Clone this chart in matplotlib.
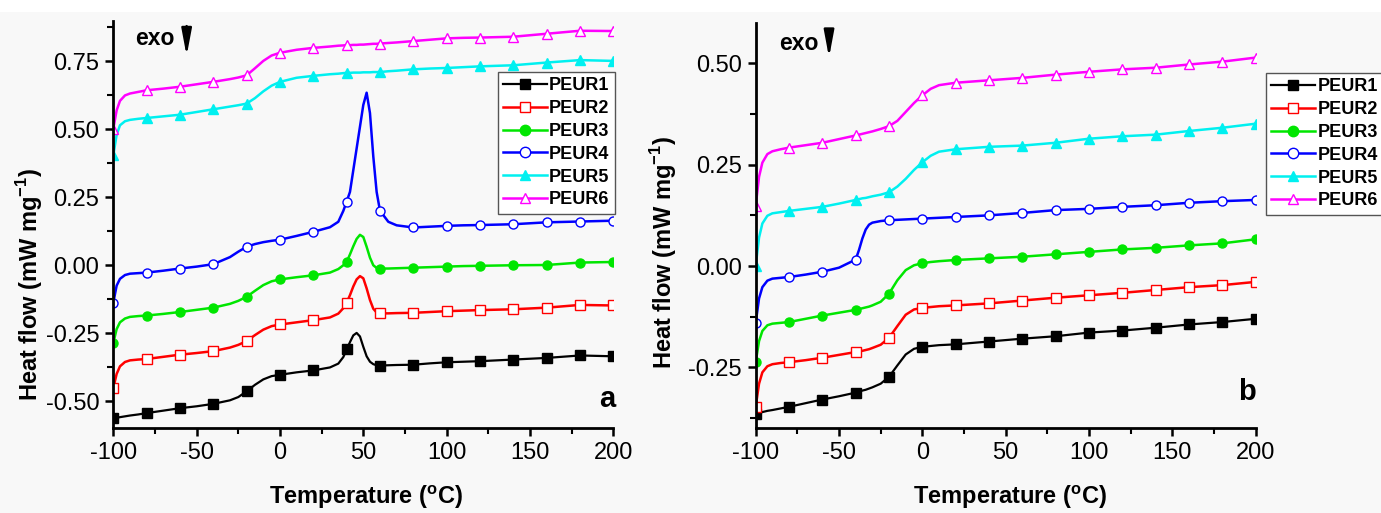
import matplotlib
matplotlib.use('Agg')
import matplotlib.pyplot as plt
from matplotlib.patches import Rectangle
from matplotlib.ticker import MultipleLocator, FormatStrFormatter

plt.rcParams['font.family'] = ['Liberation Sans', 'DejaVu Sans']
plt.rcParams['mathtext.fontset'] = 'custom'
plt.rcParams['mathtext.rm'] = 'Liberation Sans'
plt.rcParams['mathtext.bf'] = 'Liberation Sans:bold'
plt.rcParams['axes.unicode_minus'] = False

# --- data ---
names = ['PEUR1', 'PEUR2', 'PEUR3', 'PEUR4', 'PEUR5', 'PEUR6']

# panel a
T_a = [-100, -98, -96, -93, -90, -85, -80, -70, -60, -50, -40, -30, -25, -20, -15,
       -10, -5, 0, 10, 20, 30, 35, 38, 40, 42, 44, 46, 48, 50, 52, 54, 56, 58, 60,
       65, 70, 80, 90, 100, 110, 120, 140, 160, 180, 200]
peur1_a = [-0.563, -0.561, -0.559, -0.556, -0.553, -0.549, -0.544, -0.535, -0.526, -0.519,
           -0.510, -0.497, -0.485, -0.464, -0.440, -0.420, -0.408, -0.403, -0.394, -0.387,
           -0.376, -0.362, -0.338, -0.310, -0.283, -0.258, -0.249, -0.262, -0.300, -0.335,
           -0.355, -0.364, -0.368, -0.369, -0.368, -0.367, -0.366, -0.361, -0.357, -0.355,
           -0.353, -0.347, -0.341, -0.332, -0.335]
peur2_a = [-0.452, -0.400, -0.372, -0.356, -0.350, -0.347, -0.345, -0.337, -0.329, -0.323,
           -0.316, -0.303, -0.293, -0.279, -0.257, -0.237, -0.224, -0.218, -0.210, -0.202,
           -0.192, -0.178, -0.158, -0.138, -0.110, -0.078, -0.052, -0.040, -0.048, -0.085,
           -0.128, -0.160, -0.174, -0.177, -0.177, -0.176, -0.175, -0.172, -0.169, -0.167,
           -0.165, -0.162, -0.156, -0.146, -0.148]
peur3_a = [-0.286, -0.235, -0.210, -0.196, -0.190, -0.187, -0.185, -0.179, -0.172, -0.164,
           -0.156, -0.142, -0.131, -0.116, -0.094, -0.073, -0.059, -0.052, -0.044, -0.037,
           -0.027, -0.014, 0.000, 0.012, 0.040, 0.070, 0.097, 0.112, 0.104, 0.068,
           0.028, 0.000, -0.010, -0.012, -0.012, -0.011, -0.009, -0.007, -0.005, -0.003,
           -0.002, 0.000, 0.001, 0.010, 0.012]
peur4_a = [-0.138, -0.075, -0.050, -0.036, -0.031, -0.029, -0.027, -0.020, -0.012, -0.005,
           0.004, 0.030, 0.050, 0.068, 0.078, 0.085, 0.090, 0.094, 0.108, 0.123,
           0.140, 0.160, 0.200, 0.234, 0.270, 0.350, 0.430, 0.510, 0.590, 0.635,
           0.560, 0.400, 0.270, 0.201, 0.160, 0.147, 0.139, 0.142, 0.145, 0.147,
           0.148, 0.151, 0.158, 0.161, 0.164]
peur5_a = [0.404, 0.480, 0.515, 0.530, 0.535, 0.539, 0.542, 0.548, 0.554, 0.564,
           0.574, 0.584, 0.589, 0.595, 0.615, 0.640, 0.661, 0.675, 0.690, 0.697,
           0.703, 0.705, 0.707, 0.708, 0.708, 0.709, 0.709, 0.709, 0.710, 0.710,
           0.710, 0.711, 0.711, 0.711, 0.714, 0.716, 0.721, 0.724, 0.726, 0.729,
           0.732, 0.736, 0.746, 0.755, 0.752]
peur6_a = [0.502, 0.570, 0.605, 0.625, 0.632, 0.638, 0.644, 0.650, 0.657, 0.666,
           0.675, 0.685, 0.691, 0.699, 0.725, 0.752, 0.772, 0.782, 0.793, 0.800,
           0.805, 0.808, 0.809, 0.810, 0.810, 0.811, 0.811, 0.812, 0.812, 0.813,
           0.814, 0.815, 0.815, 0.816, 0.818, 0.820, 0.825, 0.830, 0.835, 0.837,
           0.838, 0.841, 0.852, 0.863, 0.862]

# panel b
T_b = [-100, -98, -96, -93, -90, -85, -80, -70, -60, -50, -40, -38, -36, -34, -32, -30,
       -25, -20, -15, -10, -5, 0, 5, 10, 20, 40, 60, 80, 100, 120, 140, 160, 180, 200]
peur1_b = [-0.364, -0.362, -0.360, -0.357, -0.355, -0.351, -0.347, -0.338, -0.329, -0.321,
           -0.312, -0.310, -0.307, -0.305, -0.302, -0.299, -0.290, -0.273, -0.245, -0.218,
           -0.204, -0.199, -0.197, -0.195, -0.193, -0.186, -0.179, -0.173, -0.164, -0.159,
           -0.152, -0.144, -0.138, -0.130]
peur2_b = [-0.347, -0.290, -0.262, -0.247, -0.242, -0.239, -0.237, -0.232, -0.226, -0.219,
           -0.212, -0.210, -0.209, -0.207, -0.205, -0.202, -0.194, -0.177, -0.148, -0.120,
           -0.107, -0.103, -0.101, -0.099, -0.097, -0.092, -0.085, -0.078, -0.072, -0.066,
           -0.059, -0.052, -0.047, -0.039]
peur3_b = [-0.237, -0.185, -0.160, -0.146, -0.142, -0.140, -0.138, -0.130, -0.122, -0.115,
           -0.108, -0.106, -0.104, -0.102, -0.100, -0.097, -0.088, -0.068, -0.035, -0.010,
           0.002, 0.007, 0.010, 0.012, 0.015, 0.019, 0.023, 0.029, 0.035, 0.041,
           0.045, 0.051, 0.056, 0.066]
peur4_b = [-0.140, -0.080, -0.052, -0.036, -0.031, -0.029, -0.027, -0.021, -0.014, -0.004,
           0.016, 0.040, 0.068, 0.090, 0.102, 0.107, 0.111, 0.113, 0.114, 0.115,
           0.116, 0.117, 0.118, 0.119, 0.121, 0.125, 0.131, 0.138, 0.141, 0.146,
           0.150, 0.156, 0.160, 0.163]
peur5_b = [0.000, 0.070, 0.105, 0.124, 0.130, 0.133, 0.136, 0.141, 0.146, 0.154,
           0.163, 0.165, 0.167, 0.168, 0.170, 0.172, 0.176, 0.182, 0.196, 0.215,
           0.237, 0.256, 0.272, 0.282, 0.288, 0.294, 0.297, 0.304, 0.314, 0.320,
           0.324, 0.333, 0.341, 0.351]
peur6_b = [0.148, 0.220, 0.255, 0.276, 0.283, 0.288, 0.292, 0.298, 0.304, 0.313,
           0.322, 0.324, 0.326, 0.328, 0.330, 0.332, 0.338, 0.345, 0.358, 0.380,
           0.402, 0.421, 0.437, 0.446, 0.452, 0.458, 0.464, 0.472, 0.479, 0.485,
           0.489, 0.497, 0.504, 0.514]

colors = ['black', '#ff0000', '#00e600', '#0000ff', '#00f0f0', '#ff00ff']
markers = ['s', 's', 'o', 'o', '^', '^']
filled = [True, False, True, False, True, False]

W, H = 1381, 513
fig = plt.figure(figsize=(W / 100, H / 100), dpi=100, facecolor='#f8f8f8')
fig.patches.append(Rectangle((0, 1 - 12 / H), 1, 12 / H, transform=fig.transFigure,
                             facecolor='white', edgecolor='none', zorder=0))

ax_a = fig.add_axes([113.3 / W, 1 - 428.3 / H, 500 / W, 407.6 / H])
ax_b = fig.add_axes([755.7 / W, 1 - 428.3 / H, 500 / W, 405.6 / H])


def draw(ax, T, series, ylim):
    idx = [i for i, t in enumerate(T) if t % 20 == 0]
    for name, y, c, m, f in zip(names, series, colors, markers, filled):
        ax.plot(T, y, color=c, lw=1.6 if c == 'black' else 1.8, marker=m, ms=6.5,
                markevery=idx, mfc=c if f else 'white', mec=c, mew=1.0, label=name,
                solid_joinstyle='round')
    ax.set_xlim(-100, 200)
    ax.set_ylim(*ylim)
    ax.set_facecolor('none')
    for s in ['top', 'right']:
        ax.spines[s].set_visible(False)
    for s in ['left', 'bottom']:
        ax.spines[s].set_linewidth(2)
    ax.xaxis.set_major_locator(MultipleLocator(50))
    ax.xaxis.set_minor_locator(MultipleLocator(25))
    ax.yaxis.set_major_locator(MultipleLocator(0.25))
    ax.yaxis.set_minor_locator(MultipleLocator(0.125))
    ax.yaxis.set_major_formatter(FormatStrFormatter('%.2f'))
    ax.tick_params(which='major', direction='out', length=6, width=1.8, labelsize=17, pad=4)
    ax.tick_params(which='minor', direction='out', length=4, width=1.5)


draw(ax_a, T_a, [peur1_a, peur2_a, peur3_a, peur4_a, peur5_a, peur6_a], (-0.6, 0.9))
draw(ax_b, T_b, [peur1_b, peur2_b, peur3_b, peur4_b, peur5_b, peur6_b], (-0.4, 0.6))

leg_kw = dict(frameon=True, fancybox=False, edgecolor='#555555', facecolor='white',
              framealpha=1, prop={'weight': 'bold', 'size': 13}, handlelength=2.4,
              handletextpad=0.15, labelspacing=0.32, borderpad=0.3, borderaxespad=0,
              markerscale=1.15)
la = ax_a.legend(loc='upper right', bbox_to_anchor=(615 / W, 1 - 72 / H),
                 bbox_transform=fig.transFigure, **leg_kw)
lb = ax_b.legend(loc='upper left', bbox_to_anchor=(1266 / W, 1 - 73 / H),
                 bbox_transform=fig.transFigure, **leg_kw)
for lg in (la, lb):
    lg.get_frame().set_linewidth(1.0)

# exo arrows
arrow = dict(arrowstyle='-|>,head_length=0.8,head_width=0.15', color='black', lw=1.8,
             mutation_scale=20, shrinkA=0, shrinkB=0)
ax_a.text(-87, 0.836, 'exo', fontsize=16.5, fontweight='bold', ha='left', va='center')
ax_a.annotate('', xy=(-56, 0.770), xytext=(-56, 0.880), arrowprops=arrow)
ax_b.text(-86, 0.549, 'exo', fontsize=16.5, fontweight='bold', ha='left', va='center')
ax_b.annotate('', xy=(-56, 0.514), xytext=(-56, 0.573), arrowprops=arrow)

ax_a.text(201, -0.491, 'a', ha='right', va='center', fontsize=21, fontweight='bold')
ax_b.text(200, -0.31, 'b', ha='right', va='center', fontsize=21, fontweight='bold')

ylab = r'Heat flow (mW mg$^{\mathbf{-1}}$)'
xlab = r'Temperature ($^{\mathbf{o}}$C)'
fig.text(29.5 / W, 1 - 284 / H, ylab, rotation=90, ha='center', va='center',
         fontsize=17, fontweight='bold')
fig.text(664 / W, 1 - 252.5 / H, ylab, rotation=90, ha='center', va='center',
         fontsize=17, fontweight='bold')
fig.text(366 / W, 1 - 497 / H, xlab, ha='center', va='center', fontsize=17, fontweight='bold')
fig.text(1010 / W, 1 - 497 / H, xlab, ha='center', va='center', fontsize=17, fontweight='bold')

fig.savefig('out.png', dpi=100, facecolor=fig.get_facecolor())
